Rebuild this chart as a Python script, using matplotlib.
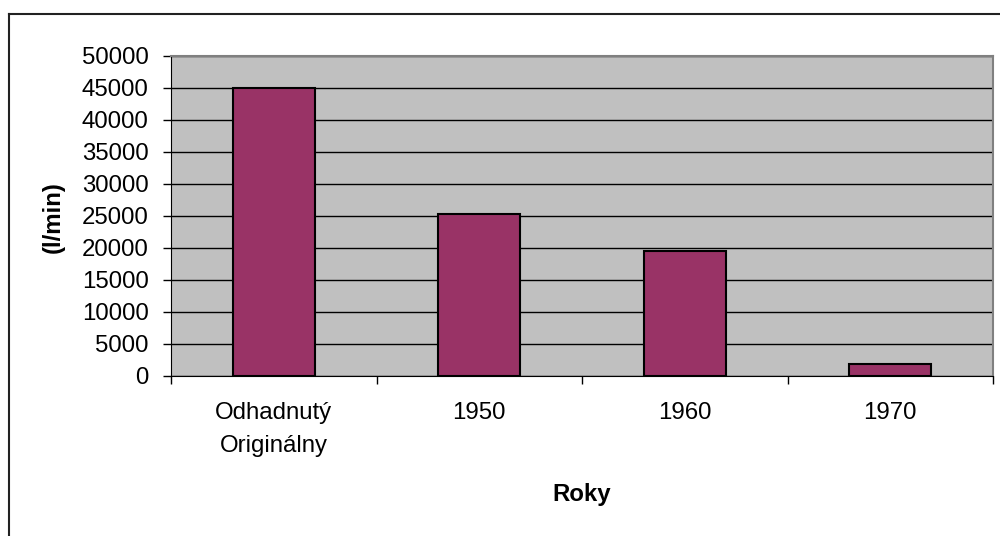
import matplotlib.pyplot as plt
from matplotlib.lines import Line2D

plt.rcParams['font.family'] = ['Liberation Sans', 'DejaVu Sans']

kategorie = ['Odhadnutý\nOriginálny', '1950', '1960', '1970']
hodnoty = [45000, 25300, 19600, 1850]
y_ticks = list(range(0, 50001, 5000))

fs = 17.3

fig = plt.figure(figsize=(10, 5.36), dpi=100)
ax = fig.add_axes([0.171, 1 - 376 / 536, 0.822, 320 / 536])

ax.set_facecolor('#C0C0C0')
ax.set_axisbelow(True)
ax.yaxis.grid(True, color='black', lw=1)

x = range(len(kategorie))
ax.bar(x, hodnoty, width=0.4, color='#993366', edgecolor='black', lw=1.5)

ax.set_xlim(-0.5, len(kategorie) - 0.5)
ax.set_ylim(0, 50000)
ax.set_yticks(y_ticks)
ax.set_yticklabels([str(v) for v in y_ticks])

# category labels centered, tick marks at the boundaries
ax.set_xticks(list(x))
ax.set_xticklabels(kategorie, linespacing=1.6)
ax.tick_params(axis='x', which='major', length=0, pad=19, labelsize=fs)
ax.set_xticks([i - 0.5 for i in range(len(kategorie) + 1)], minor=True)
ax.tick_params(axis='x', which='minor', length=6, width=1, direction='out')
ax.tick_params(axis='y', length=6, width=1, pad=10, labelsize=fs)

for s in ['top', 'right']:
    ax.spines[s].set_color('#808080')
    ax.spines[s].set_linewidth(1.5)
ax.spines['left'].set_color('black')
ax.spines['bottom'].set_color('black')

fig.text(53 / 1000, 1 - 217 / 536, '(l/min)', rotation=90, ha='center', va='center',
         fontsize=fs, fontweight='bold')
fig.text(582 / 1000, 1 - 494 / 536, 'Roky', ha='center', va='center',
         fontsize=fs, fontweight='bold')

# outer chart frame (runs off the right and bottom of the image)
fig.add_artist(Line2D([9 / 1000, 1.01], [1 - 14 / 536] * 2, color='#222222', lw=1.5))
fig.add_artist(Line2D([9 / 1000] * 2, [-0.01, 1 - 14 / 536], color='#222222', lw=1.5))

fig.savefig('out.png', dpi=100)
